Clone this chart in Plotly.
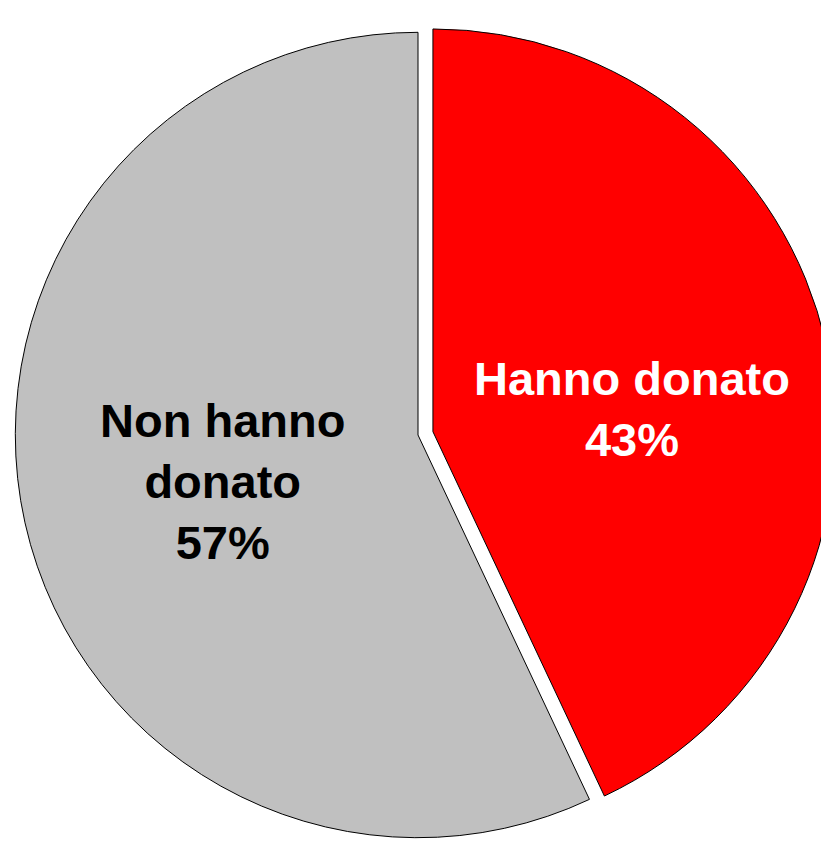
import plotly.graph_objects as go

labels = ["Hanno donato", "Non hanno donato"]
label_lines = ["Hanno donato", "Non hanno<br>donato"]
values = [43, 57]
colors = ["#FF0000", "#C0C0C0"]
text_colors = ["#FFFFFF", "#000000"]
pulls = [0.038, 0]

W, H = 836, 870

fig = go.Figure(go.Pie(
    labels=labels,
    values=values,
    sort=False,
    direction="clockwise",
    rotation=0,
    pull=pulls,
    marker=dict(colors=colors, line=dict(color="#000000", width=1)),
    textinfo="none",
    hoverinfo="label+percent",
    showlegend=False,
    domain=dict(x=[0, 1], y=[0, 1]),
))

# label centres in pixels (x, y from top)
pos_px = [(631.5, 409), (222.5, 481.5)]
for lab, v, c, (px, py) in zip(label_lines, values, text_colors, pos_px):
    fig.add_annotation(
        x=px / W, y=1 - py / H, xref="paper", yref="paper",
        text=f"{lab}<br>{v}%", showarrow=False,
        font=dict(family="Liberation Sans, Arial", size=47, color=c, weight="bold"),
        align="center", xanchor="center", yanchor="middle",
    )

fig.update_layout(
    width=W, height=H,
    margin=dict(l=0, r=0, t=0, b=0),
    paper_bgcolor="white", plot_bgcolor="white",
)
fig.write_html(
    "out.html",
    config={"displayModeBar": False},
    post_script=(
        "document.body.style.margin='0';"
        "document.body.style.overflow='hidden';"
        "document.documentElement.style.overflow='hidden';"
    ),
)
